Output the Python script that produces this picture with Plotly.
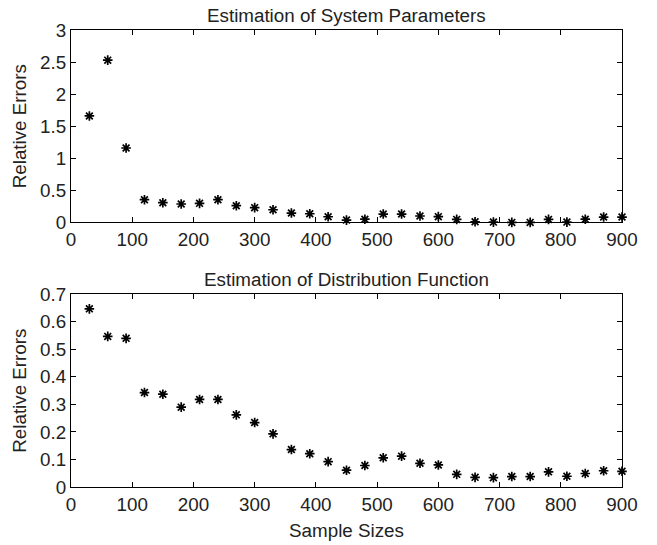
import plotly.graph_objects as go

sample_sizes = [30, 60, 90, 120, 150, 180, 210, 240, 270, 300, 330, 360, 390, 420, 450,
                480, 510, 540, 570, 600, 630, 660, 690, 720, 750, 780, 810, 840, 870, 900]
err_params = [1.66, 2.53, 1.16, 0.354, 0.307, 0.287, 0.297, 0.354, 0.26, 0.23, 0.197, 0.146, 0.135, 0.088, 0.036,
              0.05, 0.13, 0.13, 0.10, 0.09, 0.047, 0.01, 0.005, 0.0, 0.0, 0.047, 0.005, 0.05, 0.083, 0.083]
err_dist = [0.647, 0.547, 0.540, 0.343, 0.337, 0.290, 0.318, 0.318, 0.262, 0.234, 0.193, 0.136, 0.121, 0.092, 0.061,
            0.078, 0.106, 0.112, 0.086, 0.080, 0.046, 0.035, 0.034, 0.038, 0.038, 0.055, 0.039, 0.049, 0.059, 0.057]

titles = ["Estimation of System Parameters", "Estimation of Distribution Function"]
x_label = "Sample Sizes"
y_label = "Relative Errors"

FONT = "Liberation Sans, Arial, Helvetica, sans-serif"
TXT = "#222222"
FS = 18.8

fig = go.Figure()
marker = dict(symbol="asterisk-open", size=8, color="black", line=dict(color="black", width=1.7))
fig.add_trace(go.Scatter(x=sample_sizes, y=err_params, mode="markers", marker=marker,
                         xaxis="x", yaxis="y", cliponaxis=False, showlegend=False))
fig.add_trace(go.Scatter(x=sample_sizes, y=err_dist, mode="markers", marker=marker,
                         xaxis="x2", yaxis="y2", cliponaxis=False, showlegend=False))

axis_common = dict(showline=True, linecolor="black", linewidth=1.2, mirror="ticks",
                   ticks="inside", ticklen=5, tickwidth=1, tickcolor="black",
                   showgrid=False, zeroline=False, automargin=False,
                   tickfont=dict(family=FONT, size=FS, color=TXT))

top_dom = [0.579, 1.0]
bot_dom = [0.0, 0.4217]

fig.update_layout(
    width=657, height=545,
    margin=dict(l=71, r=35, t=30, b=58),
    paper_bgcolor="white", plot_bgcolor="white",
    font=dict(family=FONT, size=FS, color=TXT),
    xaxis=dict(domain=[0, 1], anchor="y", range=[0, 900], dtick=100, tick0=0,
               **axis_common),
    yaxis=dict(domain=top_dom, anchor="x", range=[0, 3], dtick=0.5, tick0=0,
               title=dict(text=y_label, font=dict(family=FONT, size=FS, color=TXT), standoff=8),
               **axis_common),
    xaxis2=dict(domain=[0, 1], anchor="y2", range=[0, 900], dtick=100, tick0=0,
                title=dict(text=x_label, font=dict(family=FONT, size=FS, color=TXT), standoff=10),
                **axis_common),
    yaxis2=dict(domain=bot_dom, anchor="x2", range=[0, 0.7], dtick=0.1, tick0=0,
                title=dict(text=y_label, font=dict(family=FONT, size=FS, color=TXT), standoff=8),
                **axis_common),
    annotations=[
        dict(text=titles[0], x=0.5, xref="paper", y=top_dom[1], yref="paper",
             xanchor="center", yanchor="bottom", yshift=2, showarrow=False,
             font=dict(family=FONT, size=FS, color=TXT)),
        dict(text=titles[1], x=0.5, xref="paper", y=bot_dom[1], yref="paper",
             xanchor="center", yanchor="bottom", yshift=2, showarrow=False,
             font=dict(family=FONT, size=FS, color=TXT)),
    ],
)

fig.write_html("out.html")
